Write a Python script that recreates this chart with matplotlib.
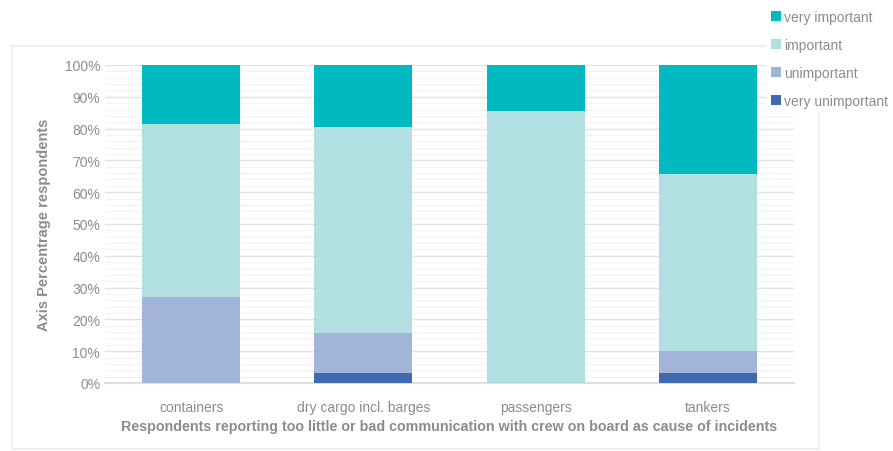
import matplotlib
matplotlib.use("Agg")
import matplotlib.pyplot as plt
from matplotlib.patches import Rectangle
from matplotlib.ticker import MultipleLocator, PercentFormatter
import numpy as np

categories = ["containers", "dry cargo incl. barges", "passengers", "tankers"]
very_unimportant = [0, 3, 0, 3]
unimportant = [27, 12.7, 0, 7]
important = [54.4, 64.8, 85.5, 55.7]
very_important = [18.6, 19.5, 14.5, 34.3]

series = [("very unimportant", very_unimportant, "#4169b3"),
          ("unimportant", unimportant, "#a3b4d9"),
          ("important", important, "#b2dfe2"),
          ("very important", very_important, "#00b9c1")]

plt.rcParams['font.family'] = ['Liberation Sans', 'DejaVu Sans']
grey = "#8c8c8c"

fig = plt.figure(figsize=(8.93, 4.52), dpi=100)
# light chart frame
fig.patches.append(Rectangle((12/893, 1-450/452), (819-12)/893, (450-47)/452,
                             transform=fig.transFigure, fill=False,
                             edgecolor="#ececec", lw=1.2))
ax = fig.add_axes([105/893, 1-384/452, (794-105)/893, (384-66)/452])

x = np.arange(len(categories))
bottom = np.zeros(len(categories))
handles = {}
for name, vals, col in series:
    b = ax.bar(x, vals, 0.57, bottom=bottom, color=col, label=name, zorder=3)
    handles[name] = b
    bottom += np.array(vals)

ax.set_xlim(-0.5, 3.5)
ax.set_ylim(0, 100)
ax.yaxis.set_major_locator(MultipleLocator(10))
ax.yaxis.set_minor_locator(MultipleLocator(2))
ax.yaxis.set_major_formatter(PercentFormatter(decimals=0))
ax.grid(axis='y', which='major', color="#e3e3e3", lw=1, zorder=0)
ax.grid(axis='y', which='minor', color="#f3f3f3", lw=0.8, zorder=0)
for s in ['top', 'right', 'left']:
    ax.spines[s].set_visible(False)
ax.spines['bottom'].set_color("#e0e0e0")
ax.spines['bottom'].set_linewidth(1.5)
ax.tick_params(axis='both', which='both', length=0, colors=grey, labelsize=10)
ax.tick_params(axis='x', pad=12)
ax.set_xticks(x)
ax.set_xticklabels(categories)
ax.set_ylabel("Axis Percentrage respondents", color=grey, fontsize=10.5,
              fontweight='bold', labelpad=10)
ax.set_xlabel("Respondents reporting too little or bad communication with crew on board as cause of incidents",
              color=grey, fontsize=10.3, fontweight='bold', labelpad=4)

order = ["very important", "important", "unimportant", "very unimportant"]
leg = fig.legend([handles[n] for n in order], order, loc='upper left',
                 bbox_to_anchor=(767/893, 1-7/452), frameon=True,
                 fontsize=10, labelspacing=1.0, handlelength=0.7,
                 handleheight=0.7, handletextpad=0.2, borderpad=0.3,
                 borderaxespad=0)
leg.get_frame().set_edgecolor("white")
leg.get_frame().set_facecolor("white")
leg.get_frame().set_alpha(1)
for t in leg.get_texts():
    t.set_color(grey)

fig.savefig("out.png", dpi=100)
